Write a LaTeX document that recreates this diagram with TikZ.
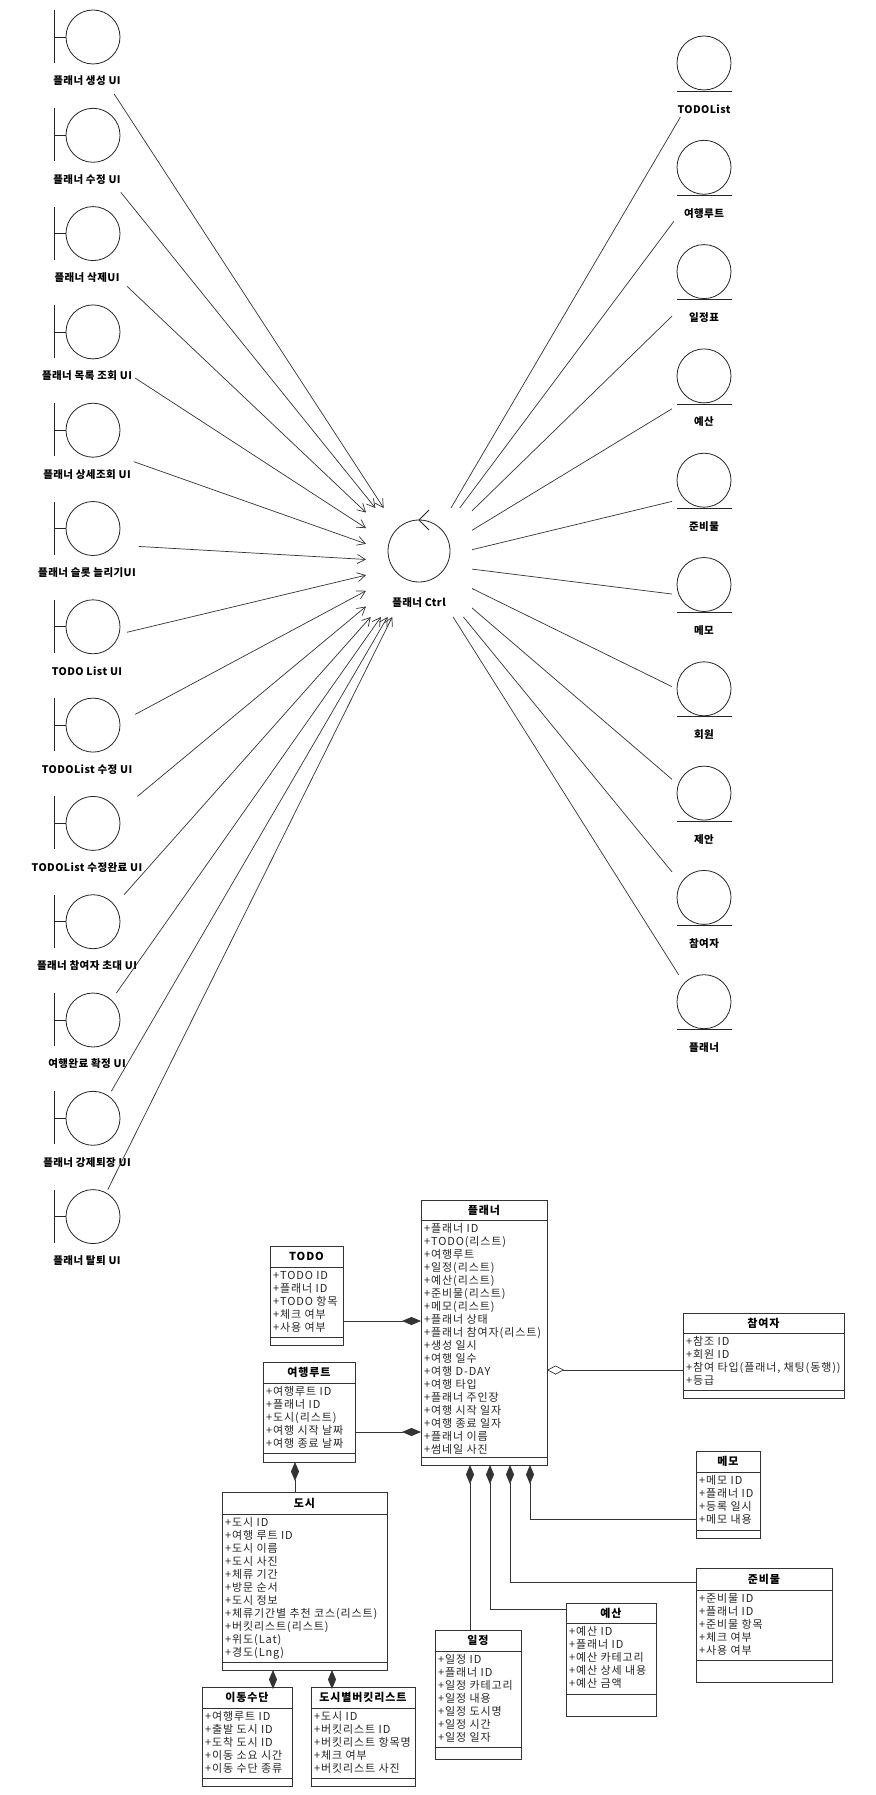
\documentclass[tikz,border=0pt]{standalone}
\usepackage{fontspec}
\newfontfamily\kr[LetterSpace=4]{Noto Sans CJK KR}
\newfontfamily\kri[LetterSpace=8]{Noto Sans CJK KR}
\usetikzlibrary{arrows.meta}
\newcommand\lblf{\kr\bfseries\fontsize{10.5}{12}\selectfont}
\tikzset{
  ghost/.style={inner sep=0pt, outer sep=0pt, draw=none},
  icon/.style={draw=black!85, line width=0.8pt},
  lbl/.style={font=\lblf, inner sep=0pt},
  conn/.style={draw=black!80, line width=0.7pt},
  arr/.style={conn, -{Straight Barb[length=8pt,width=9pt]}},
  comp/.style={conn, {Diamond[length=19pt,width=8pt]}-},
  agg/.style={conn, {Diamond[open,length=17pt,width=9pt]}-},
  classbox/.style={draw=black!80, line width=0.8pt, fill=white, inner sep=0pt, outer sep=0pt},
  classline/.style={draw=black!80, line width=0.8pt},
  ctitle/.style={font=\kri\bfseries\fontsize{11}{12}\selectfont, inner sep=0pt},
  citem/.style={font=\kri\fontsize{11}{12}\selectfont, inner sep=0pt, text=black!85},
}
\newcommand\bnd[3]{%
  \node[ghost, minimum width=80pt, minimum height=84pt, inner xsep=3pt] (#1) at (87,#2) {\phantom{\lblf #3}};
  \draw[icon] (54,#2-42) -- (54,#2+11);
  \draw[icon] (54,#2-15) -- (66,#2-15);
  \draw[icon] (93,#2-15) circle[radius=27];
  \node[lbl] (#1-l) at (87,#2+29) {#3};
}
\newcommand\ent[3]{%
  \node[ghost, minimum width=64pt, minimum height=81pt] (#1) at (704,#2) {};
  \draw[icon] (704,#2-13.5) circle[radius=27];
  \draw[icon] (677,#2+14.5) -- (732,#2+14.5);
  \node[lbl] (#1-l) at (704,#2+32.5) {#3};
}
\newcommand\umlclass[9]{%
  \node[classbox, minimum width=#4pt, minimum height=#5pt, anchor=north west] (#1) at (#2,#3) {};
  \draw[classline] ([yshift=-#6pt]#1.north west) -- ([yshift=-#6pt]#1.north east);
  \draw[classline] ([yshift=-#7pt]#1.north west) -- ([yshift=-#7pt]#1.north east);
  \node[ctitle] (#1-t) at ([yshift={-(#6)/2}]#1.north) {#8};
  \foreach \t [count=\k] in {#9} {
    \node[citem, anchor=base west] (#1-\k) at ([xshift=3pt, yshift={-(#6+13*\k-0.5)}]#1.north west) {\t};
  }
}
\begin{document}
\begin{tikzpicture}[x=1pt,y=-1pt]
\useasboundingbox (0,0) rectangle (875,1795);
\fill[white] (0,0) rectangle (875,1795);

% boundary objects
\foreach \lab [count=\i from 0] in {플래너 생성 UI, 플래너 수정 UI, 플래너 삭제UI, 플래너 목록 조회 UI, 플래너 상세조회 UI, 플래너 슬롯 늘리기UI, TODO List UI, TODOList 수정 UI, TODOList 수정완료 UI, 플래너 참여자 초대 UI, 여행완료 확정 UI, 플래너 강제퇴장 UI, 플래너 탈퇴 UI} {
  \pgfmathsetmacro\cy{52+98.3*\i}
  \bnd{b\i}{\cy}{\lab}
}

% control
\node[ghost, minimum width=106pt, minimum height=109pt] (ctrl) at (419,562.5) {};
\draw[icon] (419,551) circle[radius=31];
\draw[icon] (429,510) -- (419,520) -- (429,530);
\node[lbl] (ctrl-l) at (419,603) {플래너 Ctrl};

% entities
\foreach \lab [count=\j from 0] in {TODOList, 여행루트, 일정표, 예산, 준비물, 메모, 회원, 제안, 참여자, 플래너} {
  \pgfmathsetmacro\cy{76.5+104.3*\j}
  \ent{e\j}{\cy}{\lab}
}

\foreach \i in {0,...,12} \draw[arr] (b\i) -- (ctrl);
\foreach \j in {0,...,9} \draw[conn] (ctrl) -- (e\j);

% classes
\umlclass{planner}{421}{1200}{126}{265}{20}{257}{플래너}{+플래너 ID, +TODO(리스트), +여행루트, +일정(리스트), +예산(리스트), +준비물(리스트), +메모(리스트), +플래너 상태, +플래너 참여자(리스트), +생성 일시, +여행 일수, +여행 D-DAY, +여행 타입, +플래너 주인장, +여행 시작 일자, +여행 종료 일자, +플래너 이름, +썸네일 사진}
\umlclass{todo}{270}{1246}{73}{99}{21}{91}{TODO}{+TODO ID, +플래너 ID, +TODO 항목, +체크 여부, +사용 여부}
\umlclass{route}{263}{1362}{92}{100}{21}{91}{여행루트}{+여행루트 ID, +플래너 ID, +도시(리스트), +여행 시작 날짜, +여행 종료 날짜}
\umlclass{city}{222}{1492}{165}{178}{22}{170}{도시}{+도시 ID, +여행 루트 ID, +도시 이름, +도시 사진, +체류 기간, +방문 순서, +도시 정보, +체류기간별 추천 코스(리스트), +버킷리스트(리스트), +위도(Lat), +경도(Lng)}
\umlclass{transport}{202}{1687}{90}{99}{21}{91}{이동수단}{+여행루트 ID, +출발 도시 ID, +도착 도시 ID, +이동 소요 시간, +이동 수단 종류}
\umlclass{bucket}{311}{1687}{104}{99}{21}{91}{도시별버킷리스트}{+도시 ID, +버킷리스트 ID, +버킷리스트 항목명, +체크 여부, +버킷리스트 사진}
\umlclass{schedule}{435}{1630}{86}{129}{21}{117}{일정}{+일정 ID, +플래너 ID, +일정 카테고리, +일정 내용, +일정 도시명, +일정 시간, +일정 일자}
\umlclass{budget}{566}{1603}{90}{113}{20}{91}{예산}{+예산 ID, +플래너 ID, +예산 카테고리, +예산 상세 내용, +예산 금액}
\umlclass{participant}{683}{1313}{161}{85}{20}{77}{참여자}{+참조 ID, +회원 ID, {+참여 타입(플래너, 채팅(동행))}, +등급}
\umlclass{memo}{696}{1451}{64}{87}{21}{79}{메모}{+메모 ID, +플래너 ID, +등록 일시, +메모 내용}
\umlclass{supplies}{696}{1568}{136}{114}{22}{92}{준비물}{+준비물 ID, +플래너 ID, +준비물 항목, +체크 여부, +사용 여부}

% class connectors
\coordinate (todoc) at ([yshift=-75pt]todo.north east);
\draw[comp] (planner.west |- todoc) -- (todoc);
\coordinate (routec) at ([yshift=-70pt]route.north east);
\draw[comp] (planner.west |- routec) -- (routec);
\coordinate (partc) at ([yshift=-57pt]participant.north west);
\draw[agg] (planner.east |- partc) -- (partc);
\coordinate (pS1) at ([xshift=-14pt]planner.south);
\draw[comp] (pS1) -- (pS1 |- schedule.north);
\coordinate (pS2) at ([xshift=6pt]planner.south);
\coordinate (budc) at ([yshift=-6pt]budget.north west);
\draw[comp] (pS2) |- (budc);
\coordinate (pS3) at ([xshift=26pt]planner.south);
\coordinate (supc) at ([yshift=-14pt]supplies.north west);
\draw[comp] (pS3) |- (supc);
\coordinate (pS4) at ([xshift=46pt]planner.south);
\coordinate (memc) at ([yshift=-68pt]memo.north west);
\draw[comp] (pS4) |- (memc);
\coordinate (cityc) at ([xshift=32pt]route.south west);
\draw[comp] (cityc) -- (cityc |- city.north);
\coordinate (trc) at ([xshift=51pt]city.south west);
\draw[comp] (trc) -- (trc |- transport.north);
\coordinate (bkc) at ([xshift=110pt]city.south west);
\draw[comp] (bkc) -- (bkc |- bucket.north);
\end{tikzpicture}
\end{document}
